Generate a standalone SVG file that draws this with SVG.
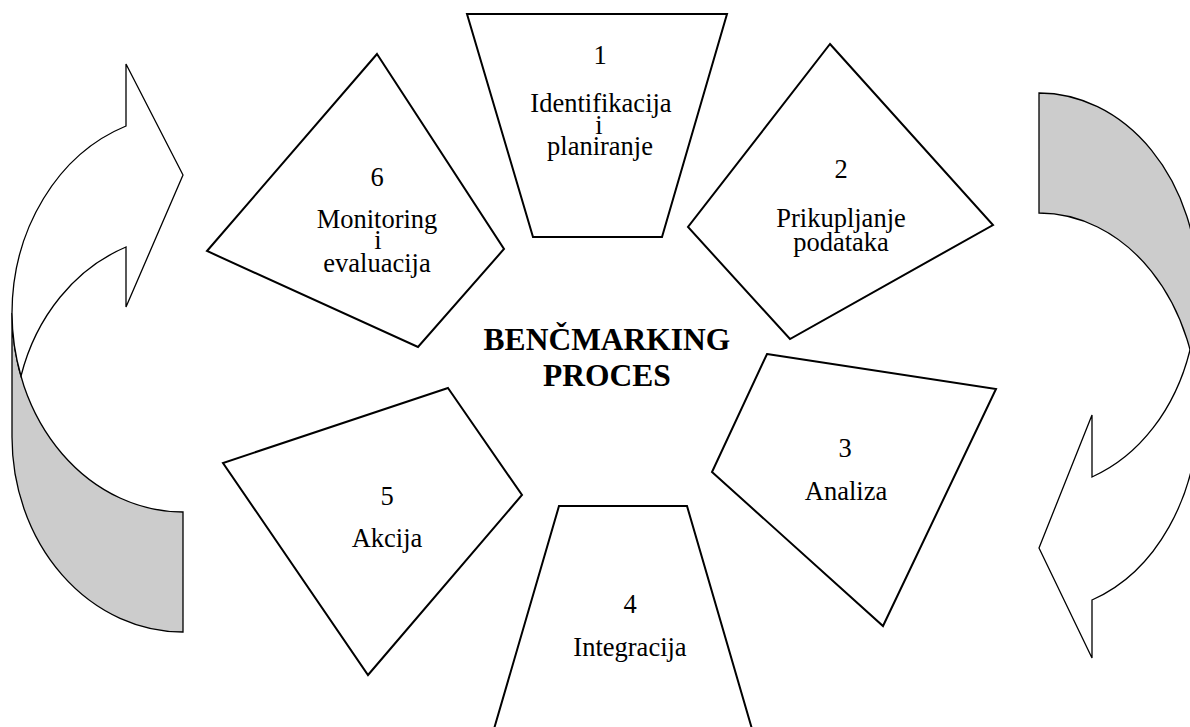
<svg xmlns="http://www.w3.org/2000/svg" width="1190" height="727" viewBox="0 0 1190 727">
<style>
.node{fill:#ffffff;stroke:#000000;stroke-width:2;stroke-linejoin:miter}
.arr{fill:#ffffff;stroke:#000000;stroke-width:1.3;stroke-linejoin:miter}
.back{fill:#cccccc;stroke:#000000;stroke-width:1.3}
.t{font-family:"Liberation Serif","Times New Roman",serif;font-size:26.5px;fill:#000000;text-anchor:middle}
.c{font-family:"Liberation Serif","Times New Roman",serif;font-size:31.5px;font-weight:bold;fill:#000000;text-anchor:middle}
</style>
<rect x="0" y="0" width="1190" height="727" fill="#ffffff"/>
<g id="connectors">
  <g id="arrow-left">
    <path class="back" d="M12,313 A171,199 0 0 0 183,512 L183,632 A171,195 0 0 1 12,437 Z"/>
    <path class="arr" d="M12,313 A171,199 0 0 1 126,126 L126,64 L183,175 L126,307 L126,247 A171,195 0 0 0 21,376 A171,199 0 0 1 12,313 Z"/>
  </g>
  <g id="arrow-right">
    <path class="back" d="M1198,412 A159,199 0 0 0 1039,213 L1039,93 A159,195 0 0 1 1198,288 Z"/>
    <path class="arr" d="M1198,412 A159,199 0 0 1 1092,600 L1092,658 L1039,548 L1092,415 L1092,477 A159,195 0 0 0 1190,350 A159,199 0 0 1 1198,412 Z"/>
  </g>
</g>
<g id="node1">
  <polygon class="node" points="467,14 727,14 662,237 533,237"/>
  <text class="t" x="600" y="64">1</text>
  <text class="t" x="601" y="112">Identifikacija</text>
  <text class="t" x="599" y="134">i</text>
  <text class="t" x="600" y="155">planiranje</text>
</g>
<g id="node2">
  <polygon class="node" points="830,44 993,225 790,339 688,227"/>
  <text class="t" x="841" y="178">2</text>
  <text class="t" x="841" y="227">Prikupljanje</text>
  <text class="t" x="841" y="251">podataka</text>
</g>
<g id="node3">
  <polygon class="node" points="767,354 996,389 883,626 712,472"/>
  <text class="t" x="845" y="457">3</text>
  <text class="t" x="846" y="500">Analiza</text>
</g>
<g id="node4">
  <polygon class="node" points="559,506 687,506 752,729 494,729"/>
  <text class="t" x="630" y="613">4</text>
  <text class="t" x="630" y="656">Integracija</text>
</g>
<g id="node5">
  <polygon class="node" points="448,388 522,495 368,675 223,463"/>
  <text class="t" x="387" y="505">5</text>
  <text class="t" x="387" y="547">Akcija</text>
</g>
<g id="node6">
  <polygon class="node" points="377,54 504,249 418,347 207,251"/>
  <text class="t" x="377" y="186">6</text>
  <text class="t" x="377" y="228">Monitoring</text>
  <text class="t" x="378" y="249">i</text>
  <text class="t" x="377" y="272">evaluacija</text>
</g>
<g id="center">
  <text class="c" x="607" y="350">BENČMARKING</text>
  <text class="c" x="607" y="386">PROCES</text>
</g>
</svg>
